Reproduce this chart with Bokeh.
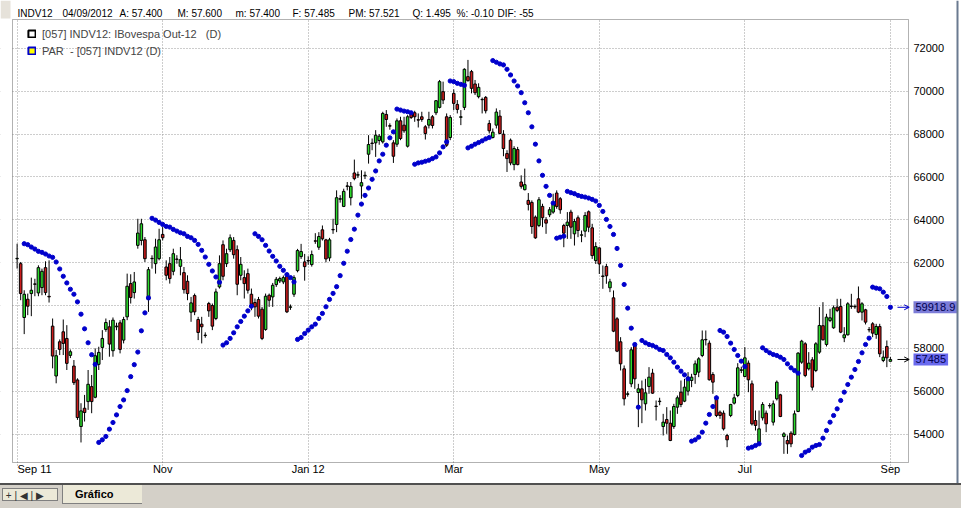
from bokeh.plotting import figure
from bokeh.models import (ColumnDataSource, FixedTicker, Range1d, Label, Legend, LegendItem,
                          Arrow, OpenHead, Div, Grid, BoxAnnotation, Span)
from bokeh.layouts import column
from bokeh.embed import file_html
from bokeh.resources import INLINE

nan = float("nan")

opens = [
    62180, 61954, 59443, 60296, 60559, 61010, 60590, 60838, 61768, 60430,
    59040, 56715, 58311, 58776, 58466, 57676, 57180, 56529, 54359, 55211,
    55521, 56219, 55723, 57258, 58048, 58885, 59009, 57893, 59009, 59195,
    58389, 59474, 61024, 60605, 62807, 63039, 63070, 60280, 62200, 61954,
    62187, 63318, 61799, 61954, 61598, 62170, 61830, 61536, 61133, 59691,
    60466, 59350, 59133, 58600, 60094, 60001, 59397, 60869, 62838, 61954,
    62605, 63039, 62605, 61412, 61303, 61489, 60528, 60140, 60280, 59830,
    58885, 60482, 60404, 60977, 61148, 61102, 61365, 59920, 60528, 61629,
    62284, 62035, 62080, 61910, 63020, 62721, 63532, 63064, 62222, 63550,
    63782, 64960, 64624, 65580, 65030, 66184, 66080, 65576, 66050, 67058,
    67580, 67588, 67700, 67635, 68914, 68390, 67588, 67526, 68617, 68415,
    67432, 68961, 68992, 68670, 68805, 68337, 68415, 68805, 68992, 69242,
    69975, 68805, 67838, 69897, 69382, 68780, 69242, 70677, 70911, 70334,
    69741, 69600, 69710, 68493, 67838, 68415, 68836, 67994, 67089, 67713,
    66574, 67276, 65763, 65404, 64905, 64811, 64125, 63735, 64624, 64000,
    64234, 64359, 65248, 64983, 63735, 63735, 64359, 63345, 64094, 63280,
    63470, 64374, 63626, 62097, 62690, 61380, 61823, 60828, 60361, 59382,
    58309, 57049, 55860, 56349, 58123, 55945, 56116, 55417, 56225, 56847,
    55310, 55520, 54359, 54686, 54514, 54359, 55261, 55961, 55541, 56007,
    56505, 56785, 56894, 57671, 58420, 58247, 56785, 55650, 55028, 54981,
    53939, 54872, 55448, 55805, 56980, 56692, 57314, 56350, 54639, 53629,
    54764, 54981, 55320, 54561, 55650, 55836, 53893, 53706, 54048, 53986,
    55059, 57360, 58216, 57049, 57469, 56972, 57827, 59061, 58185, 59304,
    58962, 59926, 59957, 58495, 58635, 59975, 59940, 60315, 59693, 59801,
    58880, 59149, 58651, 59024, 57438, 58091, 57400,
]

highs = [
    62884, 62032, 60714, 60559, 61303, 61250, 61877, 61722, 62063, 62109,
    59396, 57924, 58420, 59350, 59086, 57950, 57459, 56607, 55444, 55832,
    56994, 56762, 58001, 58079, 58854, 59396, 59319, 59443, 59200, 59319,
    59474, 61489, 61458, 61566, 64047, 64047, 63194, 61799, 62342, 63116,
    63582, 63659, 62109, 62264, 62652, 62350, 62729, 61799, 61412, 60404,
    60559, 59474, 59474, 58750, 60172, 60094, 60792, 62341, 63039, 62652,
    63318, 63194, 62807, 62264, 61644, 61722, 60792, 60327, 60404, 59939,
    60559, 60559, 61055, 61334, 61350, 61400, 61489, 60050, 61412, 62643,
    62877, 62409, 62300, 62565, 63376, 63423, 63735, 63111, 63158, 64047,
    65373, 65150, 65451, 65763, 65763, 66808, 66250, 66309, 66250, 67947,
    67791, 68181, 68000, 69039, 69117, 68500, 67713, 68727, 68805, 68805,
    68883, 68980, 69086, 68961, 69039, 68415, 69039, 68883, 69585, 70521,
    70443, 68961, 68883, 70084, 69585, 69117, 71067, 71457, 70989, 70521,
    70365, 69700, 69772, 68649, 68259, 69195, 69117, 68181, 67245, 67791,
    67432, 67401, 66075, 66387, 65248, 64905, 64203, 65061, 64749, 64125,
    64593, 65217, 65373, 65061, 63813, 64359, 64468, 64047, 64203, 63501,
    64359, 64437, 63813, 62955, 62721, 61870, 61948, 61248, 60704, 59460,
    58526, 57205, 56000, 58060, 58216, 56350, 56505, 56583, 57127, 57049,
    55572, 55700, 54950, 55261, 55106, 55417, 55805, 56505, 56583, 56894,
    56816, 57438, 57594, 58838, 58838, 58371, 56894, 55805, 55106, 55106,
    54017, 55417, 55883, 57314, 57150, 58060, 57438, 56505, 55106, 55106,
    55494, 55106, 55450, 55572, 56505, 55883, 54095, 53940, 54141, 55106,
    57827, 58402, 58293, 57827, 57594, 58293, 59926, 60159, 59615, 59848,
    60004, 60315, 60315, 58993, 60159, 60548, 60050, 60890, 60159, 59848,
    59000, 59226, 59149, 59149, 57905, 58371, 57600,
]

lows = [
    61722, 60249, 58668, 59552, 59505, 60435, 60435, 60482, 60482, 60140,
    57071, 56374, 57692, 57692, 56994, 57550, 56296, 54669, 53615, 54592,
    55134, 54979, 55676, 56994, 57459, 58776, 57614, 57614, 58850, 57769,
    58234, 59319, 60094, 60326, 62652, 62807, 62032, 59706, 61722, 61489,
    62109, 63039, 61179, 61024, 61412, 61950, 61412, 60559, 60249, 59242,
    59552, 58389, 58234, 58500, 59474, 58854, 59319, 60792, 61179, 61799,
    62497, 62186, 60482, 61179, 60327, 60559, 59784, 59474, 59397, 58389,
    58823, 59939, 59939, 60869, 61050, 61000, 59650, 59800, 60404, 61550,
    62175, 61161, 61900, 61816, 62877, 62596, 63033, 62019, 62066, 63345,
    63423, 64800, 64593, 65373, 64671, 65841, 65950, 64983, 65900, 66621,
    67245, 66933, 67500, 67557, 68337, 68200, 66652, 67401, 67713, 68056,
    67370, 68700, 68571, 68306, 68571, 67744, 68259, 68259, 68883, 69195,
    69398, 67401, 67713, 69117, 68961, 68415, 69117, 70443, 69897, 69819,
    69663, 68961, 68961, 68025, 67791, 68259, 67994, 66964, 66231, 66543,
    66309, 66543, 65451, 65373, 64437, 63345, 63111, 63657, 63657, 63345,
    64125, 64281, 64515, 64281, 62721, 63111, 63111, 62799, 63189, 62955,
    63189, 63423, 62175, 61941, 61473, 60781, 61015, 60626, 58760, 57827,
    56972, 55339, 55750, 56194, 56116, 54328, 54515, 55106, 55883, 55883,
    54639, 55350, 53940, 54017, 53675, 54250, 54950, 55261, 55494, 55805,
    56194, 56350, 56660, 57594, 58138, 56505, 55883, 54795, 54717, 54172,
    53395, 54795, 55386, 55727, 56850, 56660, 55960, 54406, 54172, 53550,
    54639, 54095, 55200, 54406, 55572, 54795, 53084, 53084, 53395, 53940,
    55028, 57282, 56660, 56972, 56039, 56894, 57749, 58371, 58091, 59226,
    58915, 59693, 58713, 58293, 58604, 59848, 59850, 59646, 59304, 59118,
    58750, 58526, 58449, 57594, 57360, 57127, 57400,
]

closes = [
    62202, 60559, 60528, 59970, 60714, 60993, 61768, 61597, 60605, 60404,
    57645, 57660, 57955, 58234, 57304, 57846, 56405, 54777, 55087, 55010,
    56328, 55521, 57660, 57815, 58466, 59210, 58203, 59319, 59040, 57955,
    59350, 60900, 60373, 61101, 63380, 63814, 62187, 61675, 62187, 62729,
    63070, 63163, 61412, 61257, 62419, 62155, 62140, 60745, 60559, 60125,
    59706, 58745, 59009, 58621, 59753, 59040, 60637, 61954, 61365, 62419,
    63163, 62373, 60993, 61923, 61024, 60714, 60063, 59939, 59505, 58466,
    60435, 60249, 60946, 61226, 61257, 61303, 59706, 59939, 61303, 62565,
    62518, 61816, 62100, 62378, 63002, 63220, 63111, 62175, 63064, 63532,
    65030, 64983, 65326, 65560, 65560, 65919, 66106, 65732, 66075, 67510,
    67557, 67947, 67900, 68961, 68680, 68367, 66964, 68617, 67791, 68150,
    68805, 68774, 68805, 68648, 68680, 68025, 68680, 68399, 69554, 70443,
    69585, 67479, 68774, 69429, 69148, 68805, 71020, 70490, 70131, 69928,
    70178, 69615, 69086, 68150, 68087, 69024, 68025, 67323, 66855, 66652,
    67323, 66574, 65560, 65638, 64718, 63688, 63158, 64936, 64094, 63844,
    64468, 64780, 64624, 64468, 63376, 63891, 63657, 63922, 63501, 63298,
    64203, 63657, 62331, 62752, 61941, 61357, 61388, 61108, 58806, 57873,
    57282, 55650, 55883, 57936, 56583, 56116, 55603, 55930, 56660, 55914,
    55292, 55541, 54561, 54514, 53706, 55292, 55697, 55386, 56194, 56660,
    56660, 57282, 57515, 58402, 58402, 56536, 56427, 54872, 54872, 54250,
    53737, 55386, 55697, 57096, 57002, 57562, 56536, 54484, 54406, 54250,
    55386, 54484, 55339, 55417, 56427, 54826, 54017, 53550, 53550, 54950,
    57780, 58340, 56738, 57314, 56194, 58216, 59071, 58402, 59460, 59429,
    59895, 59771, 58760, 58635, 60082, 59957, 59960, 59693, 60082, 59226,
    58869, 58713, 59024, 57749, 57594, 57562, 57485,
]

sar = [
    nan, nan, 62884, 62838, 62729, 62636, 62528, 62481, 62404, 62311,
    62249, 62032, 61706, 61365, 61055, 60761, 60528, 60172, 59598, 58916,
    58265, 57707, 57258, 53615, 53739, 53894, 54235, 54545, 54901, 55289,
    55599, 56033, 56684, 57242, 57831, 58823, 59660, 60357, 64070, 63985,
    63876, 63783, 63690, 63659, 63551, 63473, 63396, 63349, 63225, 63163,
    63039, 62853, 62574, 62264, 61923, 61613, 61334, 61086, 58157, 58265,
    58467, 58730, 59009, 59257, 59505, 59753, 59970, 63349, 63225, 63070,
    62807, 62543, 62295, 62078, 61830, 61644, 61443, 61303, 61102, 58420,
    58509, 58696, 58852, 59008, 59133, 59398, 59632, 59944, 60287, 60568,
    60880, 61395, 61972, 62534, 63080, 63563, 64218, 64733, 65139, 65482,
    65888, 66278, 66746, 67058, 67479, 67822, 68103, 69164, 69117, 69070,
    69039, 68992, 66590, 66652, 66683, 66730, 66777, 66855, 66933, 67120,
    67401, 67635, 70474, 70443, 70365, 70318, 70271, 67354, 67432, 67526,
    67604, 67682, 67775, 67838, 71426, 71348, 71270, 71223, 71020, 70755,
    70474, 70240, 69928, 69460, 68992, 68337, 67526, 66746, 66075, 65560,
    65139, 64780, 63142, 63189, 63236, 65326, 65264, 65217, 65139, 65092,
    65061, 65014, 64952, 64874, 64671, 64389, 64016, 63689, 63316, 62663,
    61870, 60983, 59879, 58946, 58184, 55260, 58371, 58262, 58184, 58138,
    58060, 57951, 57904, 57718, 57562, 57360, 57127, 56940, 56769, 56583,
    53675, 53737, 53861, 54095, 54515, 54919, 55292, 55697, 58837, 58759,
    58557, 58247, 57951, 57671, 57407, 57158, 53350, 53395, 53473, 53550,
    58029, 57904, 57795, 57718, 57671, 57593, 57484, 57282, 57096, 56971,
    56847, 53006, 53162, 53240, 53395, 53473, 53519, 53815, 54173, 54561,
    54872, 55183, 55572, 55961, 56318, 56660, 57018, 57391, 57796, 58184,
    58480, 60859, 60812, 60781, 60626, 60423, 59919,
]

tick_pos = [0, 41, 82, 123, 164, 205, 246]
tick_labels = ["Sep 11", "Nov", "Jan 12", "Mar", "May", "Jul", "Sep"]
price_ticks = [54000, 56000, 58000, 60000, 62000, 64000, 66000, 68000, 70000, 72000]

header_items = ["INDV12", "04/09/2012", "A: 57.400", "M: 57.600", "m: 57.400",
                "F: 57.485", "PM: 57.521", "Q: 1.495", "%: -0.10", "DIF: -55"]
header_x = [17, 62, 119, 177, 235, 292, 348, 412, 456, 497]
legend_price = "[057] INDV12: IBovespa Out-12   (D)"
legend_sar = "PAR  - [057] INDV12 (D)"
last_price_label = "57485"
last_sar_label = "59918.9"

n = len(closes)
assert len(opens) == n and len(highs) == n and len(lows) == n and len(sar) == n

# ---- layout geometry (pixels of the 961 x 483 chart canvas) ----
W, H = 961, 483
BOX_L, BOX_R, BOX_T, BOX_B = 12, 908, 19, 462      # chart box in canvas pixels
X_LO, X_HI = -1.3, 251.1                            # bar-index range of the chart box
Y_LO, Y_HI = 52680, 73342                           # price range of the chart box
ppx = (BOX_R - BOX_L) / (X_HI - X_LO)
ppy = (BOX_B - BOX_T) / (Y_HI - Y_LO)
x_start = X_LO - BOX_L / ppx
x_end = X_HI + (W - BOX_R) / ppx
y_start = Y_LO - (H - BOX_B) / ppy
y_end = Y_HI + BOX_T / ppy

GREEN = "#2CDA2C"
RED = "#CC1C1C"
FONT = "Liberation Sans"

xs = list(range(n))
colors = [GREEN if c >= o else RED for o, c in zip(opens, closes)]
tops = [max(o, c) for o, c in zip(opens, closes)]
bottoms = [min(o, c) for o, c in zip(opens, closes)]
src = ColumnDataSource(dict(x=xs, o=opens, h=highs, l=lows, c=closes,
                            top=tops, bottom=bottoms, color=colors, sar=sar))

p = figure(width=W, height=H, x_range=Range1d(x_start, x_end),
           y_range=Range1d(y_start, y_end), output_backend="svg",
           toolbar_location=None, x_axis_type=None, y_axis_type=None,
           min_border=0, min_border_left=0, min_border_right=0,
           min_border_top=0, min_border_bottom=0)
p.outline_line_color = None
p.background_fill_color = "white"
p.border_fill_color = "white"

# dotted grid
for dim, ticks in ((0, tick_pos), (1, price_ticks)):
    p.add_layout(Grid(dimension=dim, ticker=FixedTicker(ticks=ticks),
                      grid_line_color="#9A9A9A", grid_line_dash="1 2", grid_line_width=1))
# keep grid inside the chart box (vertical ones poke 5px below as tick marks)
white = dict(fill_color="white", fill_alpha=1, line_alpha=0, level="underlay")
p.add_layout(BoxAnnotation(left=X_HI, **white))
p.add_layout(BoxAnnotation(right=X_LO, **white))
p.add_layout(BoxAnnotation(bottom=Y_HI, **white))
p.add_layout(BoxAnnotation(top=Y_LO - 5 / ppy, **white))

# candles
p.segment(x0="x", y0="h", x1="x", y1="l", source=src, line_color="black", line_width=1)
p.vbar(x="x", width=0.72, top="top", bottom="bottom", source=src,
       fill_color="color", line_color="black", line_width=1)
# parabolic SAR
p.scatter(x="x", y="sar", source=src, size=4.2, fill_color="#0000CC",
          line_color="#0000CC", marker="circle")

# chart box border
p.add_layout(BoxAnnotation(left=X_LO, right=X_HI, top=Y_HI, bottom=Y_LO,
                           fill_alpha=0, line_color="black", line_width=1))

# price labels (right side)
for v in price_ticks:
    p.add_layout(Label(x=BOX_R + 5, y=v, x_units="screen", text=str(v),
                       text_font=FONT, text_font_size="11px", text_baseline="middle",
                       text_align="left", text_color="black"))
# date labels
for i, (t, lab) in enumerate(zip(tick_pos, tick_labels)):
    if i == 0:
        p.add_layout(Label(x=BOX_L + 5, y=H - 468, x_units="screen", y_units="screen",
                           text=lab, text_font=FONT, text_font_size="11px",
                           text_baseline="middle", text_align="left", text_color="black"))
    else:
        p.add_layout(Label(x=t, y=H - 468, y_units="screen", text=lab, text_font=FONT,
                           text_font_size="11px", text_baseline="middle",
                           text_align="center", text_color="black"))

# header line
for hx, ht in zip(header_x, header_items):
    p.add_layout(Label(x=hx, y=H - 13, x_units="screen", y_units="screen", text=ht,
                       text_font=FONT, text_font_size="10px", text_baseline="middle",
                       text_color="black"))
p.add_layout(BoxAnnotation(left=0, right=10, top=H, bottom=H - 18,
                           left_units="screen", right_units="screen",
                           top_units="screen", bottom_units="screen",
                           fill_color="#E6E2DA", fill_alpha=1, line_alpha=0))

# legend
r1 = p.quad(left=[nan], right=[nan], top=[nan], bottom=[nan], fill_color="white",
            line_color="black", line_width=2)
r2 = p.quad(left=[nan], right=[nan], top=[nan], bottom=[nan], fill_color="#FFFF00",
            line_color="#0000CC", line_width=2)
leg = Legend(items=[LegendItem(label=legend_price, renderers=[r1]),
                    LegendItem(label=legend_sar, renderers=[r2])],
             location=(27, H - 57), border_line_color=None, background_fill_alpha=0,
             label_text_font=FONT, label_text_font_size="11px", glyph_width=9,
             glyph_height=9, label_height=13, spacing=4, padding=0, margin=0,
             label_standoff=6)
p.add_layout(leg)

# last value markers
p.add_layout(Arrow(x_start=248.0, y_start=sar[-1], x_end=251.3, y_end=sar[-1],
                   line_color="#0000CC", line_width=1,
                   end=OpenHead(size=5, line_color="#0000CC", line_width=1)))
p.add_layout(Arrow(x_start=248.0, y_start=closes[-1], x_end=251.3, y_end=closes[-1],
                   line_color="black", line_width=1,
                   end=OpenHead(size=5, line_color="black", line_width=1)))
p.add_layout(Label(x=BOX_R + 5, y=sar[-1], x_units="screen", text=last_sar_label,
                   text_font=FONT, text_font_size="11px", text_baseline="middle",
                   text_color="#000050", background_fill_color="#7C7CD8",
                   padding=2))
p.add_layout(Label(x=BOX_R + 5, y=closes[-1], x_units="screen", text=last_price_label,
                   text_font=FONT, text_font_size="11px", text_baseline="middle",
                   text_color="#000050", background_fill_color="#6A6AEE",
                   padding=2))

# window edge on the right
p.add_layout(Span(location=957, location_units="screen", dimension="height",
                  line_color="#6A7A90", line_width=2))

tabs = Div(text=(
    '<div style="position:relative;width:961px;height:25px;background:#D4D0C8;'
    'border-top:2px solid #505050;box-sizing:border-box;'
    'font-family:Liberation Sans,Arial,sans-serif;">'
    '<div style="position:absolute;left:2px;top:3px;width:56px;height:13px;border:1px solid #808080;'
    'background:#ECE9D8;font-size:10px;line-height:13px;color:#333;">'
    '&nbsp;+&nbsp;|&nbsp;&#9664;&nbsp;|&nbsp;&#9654;</div>'
    '<div style="position:absolute;left:62px;top:0;width:80px;height:19px;background:#ECE9D8;'
    'border-left:1px solid #808080;border-bottom:1px solid #808080;'
    'font-size:11px;font-weight:bold;line-height:19px;padding-left:12px;box-sizing:border-box;">'
    'Gráfico</div>'
    '</div>'), width=961, height=25, margin=0)

layout = column(p, tabs, spacing=0)
open("out.html", "w").write(file_html(layout, INLINE))
